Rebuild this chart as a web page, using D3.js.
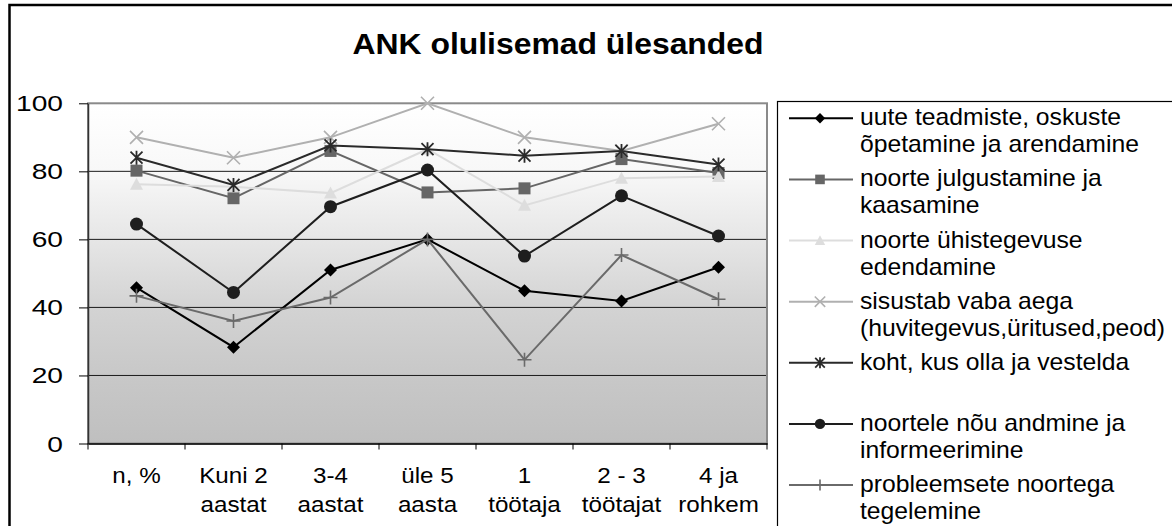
<!DOCTYPE html>
<html><head><meta charset="utf-8">
<script src="https://cdn.jsdelivr.net/npm/d3@7"></script>
<style>body{margin:0;background:#fff}svg{display:block;font-family:"Liberation Sans",Arial,sans-serif}</style>
</head><body><svg id="c" width="1172" height="526"></svg>
<script>
const categories = [["n, %"],["Kuni 2","aastat"],["3-4","aastat"],["üle 5","aasta"],["1","töötaja"],["2 - 3","töötajat"],["4 ja","rohkem"]];
const yTicks = [0,20,40,60,80,100];
const seriesNames = [
  ["uute teadmiste, oskuste","õpetamine ja arendamine"],
  ["noorte julgustamine ja","kaasamine"],
  ["noorte ühistegevuse","edendamine"],
  ["sisustab vaba aega","(huvitegevus,üritused,peod)"],
  ["koht, kus olla ja vestelda"],
  ["noortele nõu andmine ja","informeerimine"],
  ["probleemsete noortega","tegelemine"]
];
const sDiamond  = [45.8, 28.3, 51, 60, 44.9, 41.9, 51.8];
const sSquare   = [80.2, 72.1, 86, 73.8, 75, 83.6, 79.5];
const sTriangle = [76.2, 75.5, 73.6, 86.5, 70, 78, 78.5];
const sCross    = [90, 84, 90, 100, 90, 86, 94];
const sStar     = [84, 76, 87.6, 86.5, 84.6, 86, 82];
const sCircle   = [64.5, 44.4, 69.6, 80.4, 55.1, 72.8, 61];
const sPlus     = [43.4, 36, 42.9, 60, 24.6, 55.4, 42.4];
const seriesValues = [sDiamond, sSquare, sTriangle, sCross, sStar, sCircle, sPlus];
const seriesColors = ["#000000","#666666","#dddddd","#b0b0b0","#2a2a2a","#1e1e1e","#6a6a6a"];
const seriesShapes = ["diamond","square","triangle","cross","star","circle","plus"];
const title = "ANK olulisemad ülesanded";

const svg = d3.select("#c");
const L = 88, R = 767, T = 103.3, B = 443.5;
const catKeys = categories.map(c => c.join(" "));
const x = d3.scaleBand().domain(catKeys).range([L, R]);
const y = d3.scaleLinear().domain([0, 100]).range([B, T]);

// outer frame
svg.append("rect").attr("x", 9.5).attr("y", 5).attr("width", 1300).attr("height", 600)
  .attr("fill", "#fff").attr("stroke", "#000").attr("stroke-width", 2.5);

// title
svg.append("text").attr("transform", "translate(558,54) scale(1.1,1)")
  .attr("text-anchor", "middle").attr("font-size", 29).attr("font-weight", "bold").text(title);

// gradient background
const defs = svg.append("defs");
const g = defs.append("linearGradient").attr("id", "bg").attr("x1", 0).attr("y1", 0).attr("x2", 0).attr("y2", 1);
[[0,"#ffffff"],[0.2,"#f8f8f8"],[0.4,"#e6e6e6"],[0.6,"#d3d3d3"],[0.8,"#c8c8c8"],[1,"#bfbfbf"]]
  .forEach(([o,c]) => g.append("stop").attr("offset", o).attr("stop-color", c));
svg.append("rect").attr("x", L).attr("y", T).attr("width", R - L).attr("height", B - T).attr("fill", "url(#bg)");

// gridlines
svg.append("g").selectAll("line").data(yTicks.filter(v => v > 0 && v < 100)).join("line")
  .attr("x1", L).attr("x2", R).attr("y1", d => y(d)).attr("y2", d => y(d))
  .attr("stroke", "#1a1a1a").attr("stroke-width", 1);

// plot border
svg.append("rect").attr("x", L).attr("y", T).attr("width", R - L).attr("height", B - T)
  .attr("fill", "none").attr("stroke", "#8a8a8a").attr("stroke-width", 2);

// y axis
const sxY = 1.28;
const ya = svg.append("g").attr("transform", `translate(${L},0)`)
  .call(d3.axisLeft(y).tickValues(yTicks).tickSize(9).tickSizeOuter(0).tickFormat(d3.format("d")));
ya.select(".domain").attr("stroke", "#333").attr("stroke-width", 1.5);
ya.selectAll(".tick line").attr("stroke", "#000");
ya.selectAll(".tick text").attr("font-size", 22).attr("font-family", "Liberation Sans, Arial, sans-serif")
  .attr("fill", "#000").attr("text-anchor", "end").attr("x", -25 / sxY).attr("dy", null).attr("y", 7.5)
  .attr("transform", `scale(${sxY},1)`);

// x axis
const xa = svg.append("g").attr("transform", `translate(0,${B})`)
  .call(d3.axisBottom(x).tickSize(0).tickSizeOuter(0));
xa.select(".domain").attr("stroke", "#000").attr("stroke-width", 1.5);
const sxX = 1.1;
xa.selectAll(".tick text").each(function(d, i) {
  const t = d3.select(this);
  t.text(null).attr("y", 0).attr("dy", null).attr("font-size", 22)
   .attr("font-family", "Liberation Sans, Arial, sans-serif").attr("fill", "#000")
   .attr("transform", `scale(${sxX},1)`);
  categories[i].forEach((ln, j) => t.append("tspan").attr("x", 0).attr("y", 40 + j * 28.4).text(ln));
});
// boundary ticks
const bounds = catKeys.map(k => x(k)).concat([R]);
svg.append("g").selectAll("line").data(bounds).join("line")
  .attr("x1", d => d).attr("x2", d => d).attr("y1", B).attr("y2", B + 6)
  .attr("stroke", "#000").attr("stroke-width", 1);

// markers
function drawMarker(sel, shape, color, s) {
  const k = s;
  if (shape === "diamond") sel.append("path").attr("d", `M0,${-6.5*k}L${6.5*k},0L0,${6.5*k}L${-6.5*k},0Z`).attr("fill", color);
  else if (shape === "square") sel.append("rect").attr("x", -6*k).attr("y", -6*k).attr("width", 12*k).attr("height", 12*k).attr("fill", color);
  else if (shape === "triangle") sel.append("path").attr("d", `M0,${-6.5*k}L${6.5*k},${5.5*k}L${-6.5*k},${5.5*k}Z`).attr("fill", color);
  else if (shape === "circle") sel.append("circle").attr("r", 6.5*k).attr("fill", color);
  else if (shape === "cross") sel.append("path").attr("d", `M${-6.5*k},${-6.5*k}L${6.5*k},${6.5*k}M${6.5*k},${-6.5*k}L${-6.5*k},${6.5*k}`).attr("stroke", color).attr("stroke-width", 1.6).attr("fill", "none");
  else if (shape === "star") sel.append("path").attr("d", `M${-6*k},${-6*k}L${6*k},${6*k}M${6*k},${-6*k}L${-6*k},${6*k}M0,${-7*k}L0,${7*k}`).attr("stroke", color).attr("stroke-width", 1.8).attr("fill", "none");
  else if (shape === "plus") sel.append("path").attr("d", `M${-7*k},0L${7*k},0M0,${-7*k}L0,${7*k}`).attr("stroke", color).attr("stroke-width", 1.6).attr("fill", "none");
}

const line = d3.line().x((d, i) => x(catKeys[i]) + x.bandwidth() / 2).y(d => y(d));
seriesValues.forEach((vals, si) => {
  const gs = svg.append("g");
  gs.append("path").attr("d", line(vals)).attr("fill", "none")
    .attr("stroke", seriesColors[si]).attr("stroke-width", 2);
  vals.forEach((v, i) => {
    const m = gs.append("g").attr("transform", `translate(${x(catKeys[i]) + x.bandwidth() / 2},${y(v)})`);
    drawMarker(m, seriesShapes[si], seriesColors[si], 1);
  });
});

// legend
svg.append("rect").attr("x", 777.5).attr("y", 101.5).attr("width", 500).attr("height", 500)
  .attr("fill", "#fff").attr("stroke", "#000").attr("stroke-width", 1.2);
const legY = d3.scaleLinear().domain([0, 6]).range([118.3, 485]);
seriesNames.forEach((names, si) => {
  const cy = legY(si);
  const lg = svg.append("g");
  lg.append("line").attr("x1", 789).attr("x2", 853).attr("y1", cy).attr("y2", cy)
    .attr("stroke", seriesColors[si]).attr("stroke-width", 2);
  const m = lg.append("g").attr("transform", `translate(820,${cy})`);
  drawMarker(m, seriesShapes[si], seriesColors[si], 0.8);
  const t = lg.append("text").attr("font-size", 24).attr("fill", "#000")
    .attr("transform", `translate(860,${cy + 7}) scale(1.03,1)`);
  names.forEach((n, j) => t.append("tspan").attr("x", 0).attr("y", j * 27).text(n));
});
</script></body></html>
